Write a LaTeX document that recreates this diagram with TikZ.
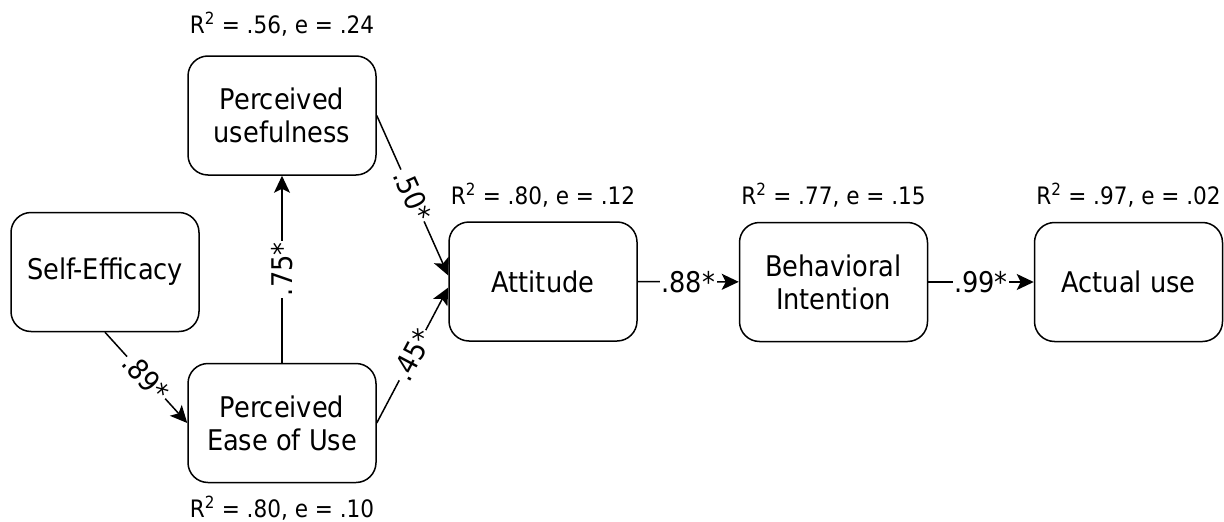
\documentclass[tikz,border=0pt]{standalone}
\usepackage{fontspec}
\setmainfont{DejaVu Sans Condensed}
\usetikzlibrary{arrows.meta,positioning}
\tikzset{
    var/.style={draw,
            rounded corners=20pt,
            line width=1.5pt,
            minimum width=188pt,
            minimum height=119pt,
            align=center,
            font=\fontsize{28.5}{33}\selectfont},
    rsq/.style={inner sep=0pt,
            font=\fontsize{24}{28}\selectfont},
    coef/.style={fill=white,
            inner sep=1.5pt,
            font=\fontsize{28.5}{33}\selectfont},
    link/.style={line width=1.5pt,
            -{Stealth[length=17pt,width=16pt,inset=4pt]}},
}

\begin{document}
\begin{tikzpicture}[x=1pt,y=-1pt]
\useasboundingbox (0,0) rectangle (1224,522);
\node[var] (se) at (105,272) {Self-Efficacy};
\node[var] (peou) at (282,423) {Perceived\\Ease of Use};
\node[var] (pu) at (282,115.5) {Perceived\\usefulness};
\node[var] (att) at (543,281.5) {Attitude};
\node[var] (bi) at (833.5,282) {Behavioral\\Intention};
\node[var] (au) at (1128.5,282) {Actual use};
\node[rsq,above=19pt of pu] (pu-r) {R\textsuperscript{2} = .56, e = .24};
\node[rsq,below=13pt of peou] (peou-r) {R\textsuperscript{2} = .80, e = .10};
\node[rsq,above=14pt of att] (att-r) {R\textsuperscript{2} = .80, e = .12};
\node[rsq,above=14pt of bi] (bi-r) {R\textsuperscript{2} = .77, e = .15};
\node[rsq,above=14pt of au] (au-r) {R\textsuperscript{2} = .97, e = .02};
\draw[link] (se.south) -- node[coef,sloped] {.89*} (peou.west);
\draw[link] (peou) -- node[coef,sloped] {.75*} (pu);
\draw[link] (pu.east) -- node[coef,sloped] {.50*} ([yshift=6pt]att.west);
\draw[link] (peou.east) -- node[coef,sloped] {.45*} ([yshift=-6pt]att.west);
\draw[link] (att) -- node[coef] {.88*} (bi);
\draw[link] (bi) -- node[coef] {.99*} (au);
\end{tikzpicture}
\end{document}
